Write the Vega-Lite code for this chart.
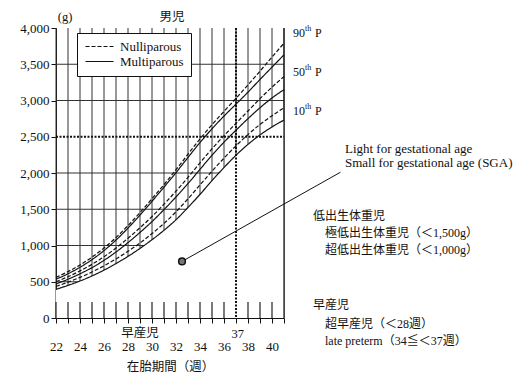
{
"$schema":"https://vega.github.io/schema/vega-lite/v6.json",
"width":228,"height":290,
"autosize":{"type":"none"},
"padding":{"left":56,"top":28,"right":236,"bottom":59},
"background":"white",
"config":{"view":{"stroke":null},"font":"Liberation Serif",
 "axis":{"domainColor":"#111","tickColor":"#111","labelColor":"#111","titleColor":"#111","labelFont":"Liberation Serif","labelFontSize":13,"titleFont":"Liberation Serif, Noto Sans CJK JP","titleFontWeight":"normal","titleFontSize":12.5,"grid":false,"zindex":1,"tickSize":5,"labelFlush":false}},
"datasets":{
 "curves":[
  {"g":"Nulliparous","pc":"N90","w":22,"v":560},{"g":"Nulliparous","pc":"N90","w":23,"v":640},{"g":"Nulliparous","pc":"N90","w":24,"v":730},{"g":"Nulliparous","pc":"N90","w":25,"v":840},{"g":"Nulliparous","pc":"N90","w":26,"v":965},{"g":"Nulliparous","pc":"N90","w":27,"v":1110},{"g":"Nulliparous","pc":"N90","w":28,"v":1275},{"g":"Nulliparous","pc":"N90","w":29,"v":1455},{"g":"Nulliparous","pc":"N90","w":30,"v":1645},{"g":"Nulliparous","pc":"N90","w":31,"v":1840},{"g":"Nulliparous","pc":"N90","w":32,"v":2045},{"g":"Nulliparous","pc":"N90","w":33,"v":2260},{"g":"Nulliparous","pc":"N90","w":34,"v":2470},{"g":"Nulliparous","pc":"N90","w":35,"v":2665},{"g":"Nulliparous","pc":"N90","w":36,"v":2850},{"g":"Nulliparous","pc":"N90","w":37,"v":3030},{"g":"Nulliparous","pc":"N90","w":38,"v":3215},{"g":"Nulliparous","pc":"N90","w":39,"v":3405},{"g":"Nulliparous","pc":"N90","w":40,"v":3600},{"g":"Nulliparous","pc":"N90","w":41,"v":3790},
  {"g":"Multiparous","pc":"M90","w":22,"v":535},{"g":"Multiparous","pc":"M90","w":23,"v":610},{"g":"Multiparous","pc":"M90","w":24,"v":700},{"g":"Multiparous","pc":"M90","w":25,"v":805},{"g":"Multiparous","pc":"M90","w":26,"v":930},{"g":"Multiparous","pc":"M90","w":27,"v":1075},{"g":"Multiparous","pc":"M90","w":28,"v":1240},{"g":"Multiparous","pc":"M90","w":29,"v":1420},{"g":"Multiparous","pc":"M90","w":30,"v":1610},{"g":"Multiparous","pc":"M90","w":31,"v":1805},{"g":"Multiparous","pc":"M90","w":32,"v":2005},{"g":"Multiparous","pc":"M90","w":33,"v":2215},{"g":"Multiparous","pc":"M90","w":34,"v":2420},{"g":"Multiparous","pc":"M90","w":35,"v":2610},{"g":"Multiparous","pc":"M90","w":36,"v":2785},{"g":"Multiparous","pc":"M90","w":37,"v":2950},{"g":"Multiparous","pc":"M90","w":38,"v":3115},{"g":"Multiparous","pc":"M90","w":39,"v":3290},{"g":"Multiparous","pc":"M90","w":40,"v":3460},{"g":"Multiparous","pc":"M90","w":41,"v":3630},
  {"g":"Nulliparous","pc":"N50","w":22,"v":500},{"g":"Nulliparous","pc":"N50","w":23,"v":570},{"g":"Nulliparous","pc":"N50","w":24,"v":650},{"g":"Nulliparous","pc":"N50","w":25,"v":740},{"g":"Nulliparous","pc":"N50","w":26,"v":845},{"g":"Nulliparous","pc":"N50","w":27,"v":965},{"g":"Nulliparous","pc":"N50","w":28,"v":1100},{"g":"Nulliparous","pc":"N50","w":29,"v":1245},{"g":"Nulliparous","pc":"N50","w":30,"v":1400},{"g":"Nulliparous","pc":"N50","w":31,"v":1570},{"g":"Nulliparous","pc":"N50","w":32,"v":1750},{"g":"Nulliparous","pc":"N50","w":33,"v":1940},{"g":"Nulliparous","pc":"N50","w":34,"v":2140},{"g":"Nulliparous","pc":"N50","w":35,"v":2335},{"g":"Nulliparous","pc":"N50","w":36,"v":2515},{"g":"Nulliparous","pc":"N50","w":37,"v":2685},{"g":"Nulliparous","pc":"N50","w":38,"v":2855},{"g":"Nulliparous","pc":"N50","w":39,"v":3025},{"g":"Nulliparous","pc":"N50","w":40,"v":3185},{"g":"Nulliparous","pc":"N50","w":41,"v":3330},
  {"g":"Multiparous","pc":"M50","w":22,"v":470},{"g":"Multiparous","pc":"M50","w":23,"v":535},{"g":"Multiparous","pc":"M50","w":24,"v":610},{"g":"Multiparous","pc":"M50","w":25,"v":695},{"g":"Multiparous","pc":"M50","w":26,"v":795},{"g":"Multiparous","pc":"M50","w":27,"v":910},{"g":"Multiparous","pc":"M50","w":28,"v":1040},{"g":"Multiparous","pc":"M50","w":29,"v":1180},{"g":"Multiparous","pc":"M50","w":30,"v":1330},{"g":"Multiparous","pc":"M50","w":31,"v":1495},{"g":"Multiparous","pc":"M50","w":32,"v":1670},{"g":"Multiparous","pc":"M50","w":33,"v":1855},{"g":"Multiparous","pc":"M50","w":34,"v":2050},{"g":"Multiparous","pc":"M50","w":35,"v":2245},{"g":"Multiparous","pc":"M50","w":36,"v":2425},{"g":"Multiparous","pc":"M50","w":37,"v":2590},{"g":"Multiparous","pc":"M50","w":38,"v":2750},{"g":"Multiparous","pc":"M50","w":39,"v":2900},{"g":"Multiparous","pc":"M50","w":40,"v":3035},{"g":"Multiparous","pc":"M50","w":41,"v":3150},
  {"g":"Nulliparous","pc":"N10","w":22,"v":435},{"g":"Nulliparous","pc":"N10","w":23,"v":495},{"g":"Nulliparous","pc":"N10","w":24,"v":560},{"g":"Nulliparous","pc":"N10","w":25,"v":635},{"g":"Nulliparous","pc":"N10","w":26,"v":720},{"g":"Nulliparous","pc":"N10","w":27,"v":815},{"g":"Nulliparous","pc":"N10","w":28,"v":920},{"g":"Nulliparous","pc":"N10","w":29,"v":1035},{"g":"Nulliparous","pc":"N10","w":30,"v":1165},{"g":"Nulliparous","pc":"N10","w":31,"v":1305},{"g":"Nulliparous","pc":"N10","w":32,"v":1465},{"g":"Nulliparous","pc":"N10","w":33,"v":1645},{"g":"Nulliparous","pc":"N10","w":34,"v":1835},{"g":"Nulliparous","pc":"N10","w":35,"v":2025},{"g":"Nulliparous","pc":"N10","w":36,"v":2205},{"g":"Nulliparous","pc":"N10","w":37,"v":2375},{"g":"Nulliparous","pc":"N10","w":38,"v":2530},{"g":"Nulliparous","pc":"N10","w":39,"v":2670},{"g":"Nulliparous","pc":"N10","w":40,"v":2790},{"g":"Nulliparous","pc":"N10","w":41,"v":2900},
  {"g":"Multiparous","pc":"M10","w":22,"v":395},{"g":"Multiparous","pc":"M10","w":23,"v":450},{"g":"Multiparous","pc":"M10","w":24,"v":510},{"g":"Multiparous","pc":"M10","w":25,"v":580},{"g":"Multiparous","pc":"M10","w":26,"v":660},{"g":"Multiparous","pc":"M10","w":27,"v":750},{"g":"Multiparous","pc":"M10","w":28,"v":850},{"g":"Multiparous","pc":"M10","w":29,"v":960},{"g":"Multiparous","pc":"M10","w":30,"v":1080},{"g":"Multiparous","pc":"M10","w":31,"v":1210},{"g":"Multiparous","pc":"M10","w":32,"v":1355},{"g":"Multiparous","pc":"M10","w":33,"v":1525},{"g":"Multiparous","pc":"M10","w":34,"v":1705},{"g":"Multiparous","pc":"M10","w":35,"v":1895},{"g":"Multiparous","pc":"M10","w":36,"v":2075},{"g":"Multiparous","pc":"M10","w":37,"v":2245},{"g":"Multiparous","pc":"M10","w":38,"v":2395},{"g":"Multiparous","pc":"M10","w":39,"v":2525},{"g":"Multiparous","pc":"M10","w":40,"v":2635},{"g":"Multiparous","pc":"M10","w":41,"v":2730}
 ],
 "vgrid":[{"w":22,"v":4000,"lo":0},{"w":23,"v":4000,"lo":0},{"w":24,"v":4000,"lo":0},{"w":25,"v":4000,"lo":0},{"w":26,"v":4000,"lo":0},{"w":27,"v":4000,"lo":0},{"w":28,"v":4000,"lo":0},{"w":29,"v":4000,"lo":0},{"w":30,"v":4000,"lo":0},{"w":31,"v":4000,"lo":0},{"w":32,"v":4000,"lo":0},{"w":33,"v":4000,"lo":0},{"w":34,"v":4000,"lo":0},{"w":35,"v":4000,"lo":0},{"w":36,"v":4000,"lo":0},{"w":37,"v":4000,"lo":0},{"w":38,"v":4000,"lo":0},{"w":39,"v":4000,"lo":0},{"w":40,"v":4000,"lo":0},{"w":41,"v":4000,"lo":0}],
 "lowticks":[{"w":22,"v":220,"lo":0},{"w":23,"v":220,"lo":0},{"w":24,"v":220,"lo":0},{"w":25,"v":220,"lo":0},{"w":26,"v":220,"lo":0},{"w":27,"v":220,"lo":0},{"w":28,"v":220,"lo":0},{"w":29,"v":220,"lo":0},{"w":30,"v":220,"lo":0},{"w":31,"v":220,"lo":0},{"w":32,"v":220,"lo":0},{"w":33,"v":220,"lo":0},{"w":34,"v":220,"lo":0},{"w":35,"v":220,"lo":0},{"w":36,"v":220,"lo":0},{"w":38,"v":220,"lo":0},{"w":39,"v":220,"lo":0},{"w":40,"v":220,"lo":0}],
 "hgrid":[{"v":500,"w":22,"w2":41},{"v":1000,"w":22,"w2":41},{"v":1500,"w":22,"w2":41},{"v":2000,"w":22,"w2":41},{"v":3000,"w":22,"w2":41},{"v":3500,"w":22,"w2":41}],
 "edge":[{"w":41,"v":4000,"lo":0}],
 "term":[{"w":37,"v":4000,"lo":0}],
 "lbw":[{"v":2500,"w":22,"w2":41}],
 "pointer":[{"w":32.5,"v":780},{"w":45.7,"v":2010}],
 "dot":[{"w":32.5,"v":780}],
 "pct":[{"w":41,"v":3931,"n":"90"},{"w":41,"v":3393,"n":"50"},{"w":41,"v":2855,"n":"10"}],
 "latin":[{"w":46.08,"v":2331,"t":"Light for gestational age"},{"w":46.08,"v":2138,"t":"Small for gestational age (SGA)"}],
 "jp":[{"w":43.42,"v":1407,"t":"低出生体重児"},{"w":44.42,"v":1172,"t":"極低出生体重児（＜1,500g）"},{"w":44.42,"v":938,"t":"超低出生体重児（＜1,000g）"},{"w":43.42,"v":179,"t":"早産児"},{"w":44.42,"v":-83,"t":"超早産児（＜28週）"},{"w":44.42,"v":-317,"t":"late preterm（34≦＜37週）"}],
 "center":[{"w":29,"v":-200,"t":"早産児"},{"w":37.15,"v":-215,"t":"37"},{"w":22.75,"v":4152,"t":"(g)"},{"w":31.67,"v":4152,"t":"男児"}]
},
"encoding":{
 "x":{"field":"w","type":"quantitative","scale":{"domain":[22,41],"nice":false,"zero":false},
  "axis":{"title":"在胎期間（週）","values":[22,23,24,25,26,27,28,29,30,31,32,33,34,35,36,37,38,39,40,41],"labelExpr":"datum.value % 2 == 0 && datum.value < 41 ? datum.label : ''","labelPadding":17,"titlePadding":7,"labelFlush":false,"labelOverlap":false}},
 "y":{"field":"v","type":"quantitative","scale":{"domain":[0,4000],"nice":false},
  "axis":{"title":null,"values":[0,500,1000,1500,2000,2500,3000,3500,4000],"labelExpr":"format(datum.value, ',')","labelPadding":2}}
},
"layer":[
 {"data":{"name":"vgrid"},"mark":{"type":"rule","color":"#333","strokeWidth":1},"encoding":{"y2":{"field":"lo"}}},
 {"data":{"name":"hgrid"},"mark":{"type":"rule","color":"#333","strokeWidth":1},"encoding":{"x2":{"field":"w2"}}},
 {"data":{"name":"curves"},"transform":[{"filter":"datum.pc == 'M10'"}],"mark":{"type":"area","fill":"white","interpolate":"monotone"}},
 {"data":{"name":"lowticks"},"mark":{"type":"rule","color":"#222","strokeWidth":1.2},"encoding":{"y2":{"field":"lo"}}},
 {"data":{"name":"edge"},"mark":{"type":"rule","color":"#111","strokeWidth":1.2},"encoding":{"y2":{"field":"lo"}}},
 {"data":{"name":"lbw"},"mark":{"type":"rule","color":"#111","strokeWidth":2,"strokeDash":[2,1.5]},"encoding":{"x2":{"field":"w2"}}},
 {"data":{"name":"term"},"mark":{"type":"rule","color":"#111","strokeWidth":2,"strokeDash":[2,1.5]},"encoding":{"y2":{"field":"lo"}}},
 {"data":{"name":"curves"},"mark":{"type":"line","color":"#111","strokeWidth":1.2,"interpolate":"monotone"},
  "encoding":{"detail":{"field":"pc"},
   "strokeDash":{"field":"g","type":"nominal","scale":{"domain":["Nulliparous","Multiparous"],"range":[[4,2],[1,0]]},
    "legend":{"title":null,"orient":"none","legendX":21,"legendY":5,"fillColor":"white","strokeColor":"#111","padding":7,"symbolType":"M-1,0H4.6","symbolSize":100,"symbolStrokeWidth":1.2,"symbolStrokeColor":"#111","symbolFillColor":"transparent","labelFont":"Liberation Serif","labelFontSize":13,"labelColor":"#111","labelOffset":23,"rowPadding":1,"zindex":1}}}},
 {"data":{"name":"pointer"},"mark":{"type":"line","color":"#111","strokeWidth":1,"clip":false}},
 {"data":{"name":"dot"},"mark":{"type":"point","filled":true,"fill":"#777","stroke":"#111","strokeWidth":1.5,"size":45,"opacity":1}},
 {"data":{"name":"pct"},"mark":{"type":"text","align":"left","baseline":"middle","dx":9,"fontSize":12,"font":"Liberation Serif","color":"#111"},"encoding":{"text":{"field":"n"}}},
 {"data":{"name":"pct"},"mark":{"type":"text","align":"left","baseline":"middle","dx":21,"dy":-4,"fontSize":8,"font":"Liberation Serif","color":"#111","text":"th"}},
 {"data":{"name":"pct"},"mark":{"type":"text","align":"left","baseline":"middle","dx":31,"fontSize":12,"font":"Liberation Serif","color":"#111","text":"P"}},
 {"data":{"name":"latin"},"mark":{"type":"text","align":"left","baseline":"middle","fontSize":13,"font":"Liberation Serif","color":"#111"},"encoding":{"text":{"field":"t"}}},
 {"data":{"name":"jp"},"mark":{"type":"text","align":"left","baseline":"middle","fontSize":12,"font":"Liberation Serif, Noto Sans CJK JP","color":"#111"},"encoding":{"text":{"field":"t"}}},
 {"data":{"name":"center"},"mark":{"type":"text","align":"center","baseline":"middle","fontSize":12.5,"font":"Liberation Serif, Noto Sans CJK JP","color":"#111"},"encoding":{"text":{"field":"t"}}}
]
}
